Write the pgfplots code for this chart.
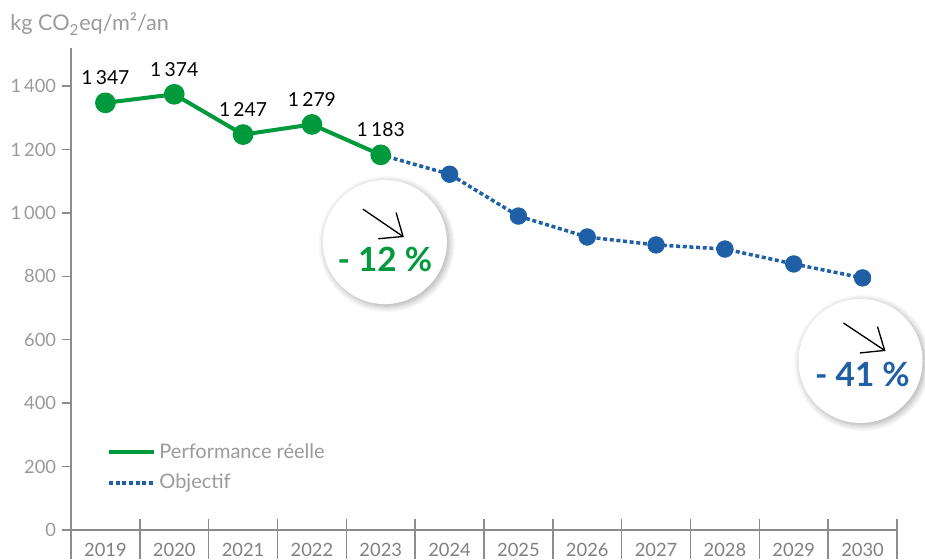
\documentclass[border=0pt]{standalone}
\usepackage{fontspec}
\setmainfont{Lato}
\usepackage{pgfplots}
\pgfplotsset{compat=1.18}
\usetikzlibrary{arrows.meta,shadows.blur}
\definecolor{cgreen}{HTML}{009A3D}
\definecolor{cblue}{HTML}{1F5FA6}
\definecolor{axgray}{HTML}{8C8C8C}
\definecolor{txtgray}{HTML}{9A9A9A}
\definecolor{yeargray}{HTML}{808080}
\begin{document}
\begin{tikzpicture}
\begin{axis}[
  scale only axis, width=495.6pt, height=289.2pt,
  xmin=-0.5, xmax=11.5, ymin=0, ymax=1520,
  axis x line=bottom, axis y line=left,
  axis line style={draw=axgray, line width=0.9pt, -},
  xtick={0,...,11},
  xticklabels={2019,2020,2021,2022,2023,2024,2025,2026,2027,2028,2029,2030},
  major x tick style={draw=none},
  x tick label style={font=\fontsize{11}{13}\selectfont, text=yeargray, yshift=1pt},
  ytick={0,200,400,600,800,1000,1200,1400},
  yticklabels={0,200,400,600,800,1\,000,1\,200,1\,400},
  y tick label style={font=\fontsize{11}{13}\selectfont, text=txtgray},
  major y tick style={draw=axgray, line width=0.9pt},
  major tick length=5.4pt, tick align=outside,
  clip=false,
  legend style={draw=none, fill=none, at={(axis cs:0.02,284)}, anchor=north west,
    font=\fontsize{12}{14}\selectfont, text=txtgray, row sep=4pt, inner sep=0pt,
    nodes={inner sep=2pt}},
  legend cell align=left,
  legend image code/.code={\draw[#1] (0pt,0pt) -- (27pt,0pt);},
]
\coordinate (O) at (axis cs:-0.5,0);
\pgfplotsinvokeforeach{-0.5,0.5,1.5,2.5,3.5,4.5,5.5,6.5,7.5,8.5,9.5,10.5,11.5}{
  \draw[axgray, line width=0.9pt] ([yshift=6.6pt]axis cs:#1,0) -- ([yshift=-17.4pt]axis cs:#1,0);
}
\addlegendimage{cgreen, line width=2.4pt}
\addlegendentry{Performance réelle}
\addlegendimage{cblue, line width=2.1pt, dash pattern=on 2.4pt off 1.6pt}
\addlegendentry{Objectif}

\addplot[cblue, line width=2.1pt, dash pattern=on 2.4pt off 1.6pt, forget plot]
  coordinates {(4,1183)(5,1122)(6,990)(7,924)(8,899)(9,886)(10,839)(11,795)};
\addplot[only marks, mark=*, mark size=5pt, cblue, forget plot]
  coordinates {(5,1122)(6,990)(7,924)(8,899)(9,886)(10,839)(11,795)};
\addplot[cgreen, line width=2.4pt, mark=*, mark size=5pt, mark options={solid}, forget plot,
  nodes near coords, point meta=explicit symbolic,
  every node near coord/.style={black, font=\fontsize{11.6}{14}\selectfont, anchor=south, inner sep=0pt, yshift=9.5pt}]
  coordinates {(0,1347)[1\,347] (1,1374)[1\,374] (2,1247)[1\,247] (3,1279)[1\,279] (4,1183)[1\,183]};

\node[circle, fill=white, minimum size=74.4pt, inner sep=0pt,
  blur shadow={shadow blur steps=12, shadow xshift=1.2pt, shadow yshift=-1.2pt, shadow blur radius=4pt, shadow opacity=35}]
  (c1) at (axis cs:4.06,908) {};
\draw[black, line width=0.8pt, -{Straight Barb[length=11.5pt,width=19pt]}]
  ([shift={(-13.2pt,19.8pt)}]c1.center) -- ([shift={(11.4pt,3pt)}]c1.center);
\node[font=\bfseries\fontsize{20}{24}\selectfont, text=cgreen] at ([yshift=-10.2pt]c1.center) {- 12 \%};

\node[circle, fill=white, minimum size=74.4pt, inner sep=0pt,
  blur shadow={shadow blur steps=12, shadow xshift=1.2pt, shadow yshift=-1.2pt, shadow blur radius=4pt, shadow opacity=35}]
  (c2) at (axis cs:10.97,533) {};
\draw[black, line width=0.8pt, -{Straight Barb[length=11.5pt,width=19pt]}]
  ([shift={(-10.2pt,22.8pt)}]c2.center) -- ([shift={(15pt,6pt)}]c2.center);
\node[font=\bfseries\fontsize{20}{24}\selectfont, text=cblue] at ([shift={(1.2pt,-7.8pt)}]c2.center) {- 41 \%};
\end{axis}
\node[anchor=base west, font=\fontsize{13}{15}\selectfont, text=txtgray, inner sep=0pt]
  at ([shift={(-36.6pt,299.4pt)}]O) {kg CO\textsubscript{2}eq/m²/an};
\pgfresetboundingbox
\path ([shift={(-42.6pt,-17.4pt)}]O) rectangle ([shift={(512.4pt,318pt)}]O);
\end{tikzpicture}
\end{document}
